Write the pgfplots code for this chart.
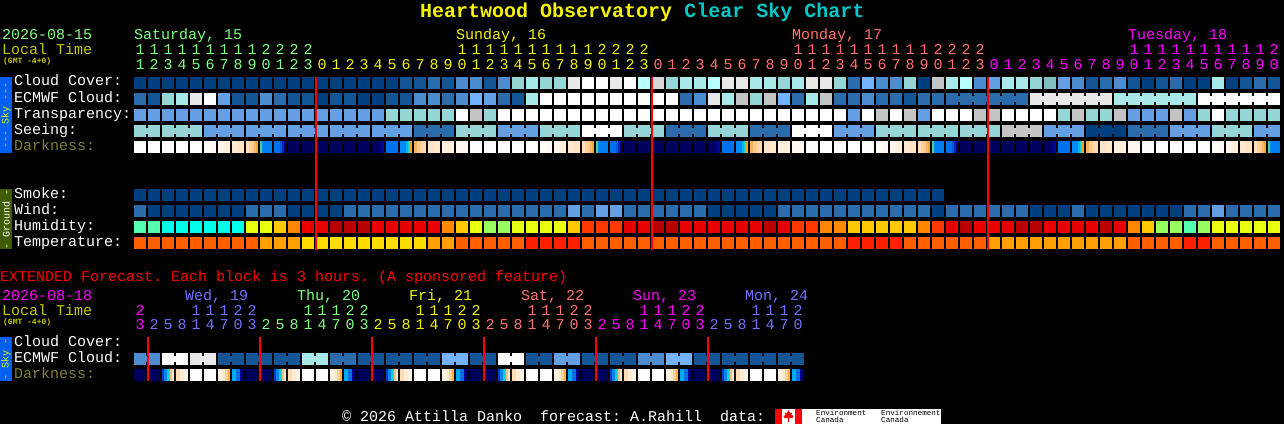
\documentclass[border=0pt]{standalone}
\usepackage{pgfplots}
\usepackage{pgfplotstable}
\usepackage{fontspec}
\pgfplotsset{compat=1.18}
\newfontfamily\mono{Liberation Mono}
\definecolor{cA}{HTML}{003F7F}\definecolor{cB}{HTML}{135595}\definecolor{cC}{HTML}{2C6CAC}
\definecolor{cD}{HTML}{4E8CD0}\definecolor{cE}{HTML}{649FE4}\definecolor{cF}{HTML}{72B2FF}
\definecolor{cG}{HTML}{95D5D5}\definecolor{cH}{HTML}{A8E8E8}\definecolor{cL}{HTML}{B8FFFF}
\definecolor{cK}{HTML}{C4C4C4}\definecolor{cQ}{HTML}{D8D8D8}\definecolor{cI}{HTML}{E8E8E8}
\definecolor{cJ}{HTML}{FFFFFF}\definecolor{cP}{HTML}{80C0C0}
\definecolor{cT}{HTML}{55FFB0}\definecolor{cU}{HTML}{00FFE8}\definecolor{cV}{HTML}{E8FF10}
\definecolor{cW}{HTML}{FFC800}\definecolor{cX}{HTML}{FF8800}\definecolor{cY}{HTML}{FF3800}
\definecolor{cZ}{HTML}{E80000}\definecolor{ca}{HTML}{B80000}\definecolor{cb}{HTML}{98FF60}
\definecolor{cc}{HTML}{FF5F00}\definecolor{cd}{HTML}{FF2000}\definecolor{ce}{HTML}{FFA000}
\definecolor{cf}{HTML}{FFDC00}
\definecolor{tgreen}{HTML}{80FF80}\definecolor{tyel}{HTML}{F4F400}\definecolor{tsal}{HTML}{FF7070}
\definecolor{tmag}{HTML}{FF00FF}\definecolor{tblu}{HTML}{7070FF}\definecolor{tolv}{HTML}{C8C800}
\definecolor{tdark}{HTML}{808030}\definecolor{tcyan}{HTML}{00C8C8}
\pgfplotsset{
  colormap={dk}{rgb255(0cm)=(0,0,85) rgb255(10cm)=(0,0,144) rgb255(20cm)=(0,64,200)
    rgb255(30cm)=(0,120,240) rgb255(35cm)=(0,144,255) rgb255(40cm)=(0,208,224)
    rgb255(45cm)=(80,208,144) rgb255(50cm)=(245,160,32) rgb255(60cm)=(251,200,136)
    rgb255(70cm)=(253,228,196) rgb255(85cm)=(255,244,230) rgb255(100cm)=(255,255,255)},
  blocks/.style={only marks, scatter, scatter src=explicit symbolic, mark size=6.4pt,
    scatter/classes={
     A={mark=square*,draw=none,fill=cA},B={mark=square*,draw=none,fill=cB},C={mark=square*,draw=none,fill=cC},
     D={mark=square*,draw=none,fill=cD},E={mark=square*,draw=none,fill=cE},F={mark=square*,draw=none,fill=cF},
     G={mark=square*,draw=none,fill=cG},H={mark=square*,draw=none,fill=cH},L={mark=square*,draw=none,fill=cL},
     K={mark=square*,draw=none,fill=cK},Q={mark=square*,draw=none,fill=cQ},I={mark=square*,draw=none,fill=cI},
     J={mark=square*,draw=none,fill=cJ},P={mark=square*,draw=none,fill=cP},N={mark=square*,draw=none,fill=black},
     T={mark=square*,draw=none,fill=cT},U={mark=square*,draw=none,fill=cU},V={mark=square*,draw=none,fill=cV},
     W={mark=square*,draw=none,fill=cW},X={mark=square*,draw=none,fill=cX},Y={mark=square*,draw=none,fill=cY},
     Z={mark=square*,draw=none,fill=cZ},a={mark=square*,draw=none,fill=ca},b={mark=square*,draw=none,fill=cb},
     c={mark=square*,draw=none,fill=cc},d={mark=square*,draw=none,fill=cd},e={mark=square*,draw=none,fill=ce},
     f={mark=square*,draw=none,fill=cf}}},
  necks/.style={only marks, scatter, scatter src=explicit symbolic, mark size=3pt, line width=2pt,
    scatter/classes={
     A={mark=|,draw=cA},B={mark=|,draw=cB},C={mark=|,draw=cC},D={mark=|,draw=cD},E={mark=|,draw=cE},
     F={mark=|,draw=cF},G={mark=|,draw=cG},H={mark=|,draw=cH},I={mark=|,draw=cI},J={mark=|,draw=cJ},
     K={mark=|,draw=cK},N={mark=|,draw=black,mark size=1pt,line width=0.1pt}}},
  dark/.style={mesh, line width=12pt, colormap name=dk, point meta=explicit, restrict x to domain=0:1280.5},
  gaps/.style={only marks, mark=|, mark size=7pt, line width=1.8pt, black}
}
% column c: hour block from 11h Sat. classes are the chart's colour levels
\pgfplotstableread{
c cl ec tr se sm wi hu te sn en
0 A C E G A C T c G N
1 A B E G A A T c N N
2 A G E G A A U c G N
3 A H E G A A U c G N
4 A I E G A A U c N N
5 A J E E A A U c E N
6 A E E E A A U c E N
7 A B E E A A U c N N
8 A B E E A C V c E N
9 A D E E A C V e E N
10 A C E E A C W e N N
11 A B E E A A X e E N
12 A B E E A A Z f E N
13 A A E E A A Z f N N
14 A B E E A A a f E N
15 A B E E A C a f E N
16 A A E E A C a f N N
17 A A E E A C Z f E N
18 A B G E A C Z f E N
19 B B G E A C Z f N N
20 B D G C A C Z f C N
21 C D G C A C Z e C N
22 B C G C A C X e N N
23 D D J G A C W c G N
24 D F K G A C V c G N
25 B E G G A C b c N N
26 D C J E A C b c E N
27 G B J E A C V c E N
28 H H J E A C V d N N
29 G J J G A C V d G N
30 G J J G A C V d G N
31 I J J G A E W d N N
32 J J J J A C Y c J N
33 J J J J A E Y c J N
34 I J J J A E Y c N N
35 J J J G A C Z c G N
36 L J J G A C Z c G N
37 Q J J G A C a c N N
38 G J J C A C a c C N
39 H C J C A C Z c C N
40 H D J C A C Z c N N
41 L I J G A A Z c G N
42 I H J G A A Z c G N
43 I K J G A A Z c N N
44 H G J C A A Z c C N
45 H K J C A A a c C N
46 G F J C A C Z c N N
47 H C J J A C Y c J N
48 I H J J A C Y c J N
49 I K J J A C X c N N
50 G C J E A C X c E N
51 C C E E A C W d E N
52 F D J E A C W d N N
53 D C K G A C W d G N
54 D C J G A C W d G N
55 G B K G A C W c N N
56 A C E G A C X c G N
57 K C J G A A Y c G N
58 H C J G N C Z c N C
59 L C J G N C a c G C
60 D C K G N C Z c G C
61 E C K G N C Z e N C
62 H C J K N C Z e K C
63 H C J K N C a e K N
64 G I J K N A a e N I
65 P I J E N A Z e E I
66 E I G E N A Z e E I
67 D I K E N C Z e N I
68 B I G A N A Z e A I
69 C I G A N A a e A N
70 D H K A N A Z e N H
71 B H E C N A X c C H
72 A H E C N A W c C H
73 B H E C N A b c N H
74 C H K E N A b c E H
75 A H E E N C T d E N
76 A J G E N C b d N J
77 H J J G N E V c G J
78 A J G G N C V c G J
79 B J G G N C V c N J
80 C J G E N C V c E J
81 B J G E N C V c N N
}\data
\pgfplotstableread{
c ec nk
0 D D
1 D N
2 J J
3 J N
4 I I
5 I N
6 B B
7 B N
8 B B
9 B N
10 B B
11 B N
12 H H
13 H N
14 C C
15 C N
16 B B
17 B N
18 B B
19 B N
20 B B
21 B N
22 F F
23 F N
24 B B
25 B N
26 J J
27 J N
28 B B
29 B N
30 E E
31 E N
32 B B
33 B N
34 B B
35 B N
36 D D
37 D N
38 F F
39 F N
40 B B
41 B N
42 B B
43 B N
44 B B
45 B N
46 B B
47 B N
}\extd
% darkness along one day of the hourly row: t = pixels from first block, m = level
\pgfplotstableread{
t m
0 100
68 100
70 98
76 94
82 90
84 90
90 84
96 78
98 78
104 72
110 68
112 70
115 66
118 62
120 58
122 54
124 50
126 45
128 45
128 32
138 30
140 30
146 28
148 20
150 12
152 7
154 2
238 1
244 2
247 8
250 14
252 28
264 30
266 33
272 36
274 40
275 42
276 48
278 55
280 52
283 58
287 64
292 68
294 68
300 72
306 76
308 78
320 84
322 88
334 94
336 100
}\darkh
% darkness along one day of the 3-hourly row
\pgfplotstableread{
t m
0 1
26 1
28 20
30 20
30 33
33 33
33 40
36 40
36 58
38 58
38 70
40 70
42 62
46 72
50 82
54 92
56 100
82 100
84 88
88 78
91 68
94 58
96 50
98 37
102 37
102 28
106 28
106 10
108 10
108 3
110 3
112 1
}\darke
\newcommand\Hours[4]{\foreach \d [count=\i from #1] in {#4} {\node[anchor=base,inner sep=0pt,text=#3,font=\mono\fontsize{15}{15}\selectfont] at ({140+14*\i},#2) {\d};}}
\newcommand\T[5][15]{\node[anchor=base west,inner sep=0pt,text=#4,font=\mono\fontsize{#1}{#1}\selectfont] at (#2,#3) {\frenchspacing #5};}
\begin{document}
\begin{tikzpicture}
\fill[black] (0,0) rectangle (1284pt,424pt);
\begin{axis}[at={(0,0)},anchor=south west,width=1284pt,height=424pt,scale only axis,hide axis,
  xmin=0,xmax=1284,ymin=0,ymax=424,y dir=reverse,clip=false,clip marker paths=true,point meta min=0,point meta max=100]
\addplot[blocks] table[x expr=\thisrow{c}*14+140,y expr=83,meta=cl]{\data};
\addplot[blocks] table[x expr=\thisrow{c}*14+140,y expr=99,meta=ec]{\data};
\addplot[blocks] table[x expr=\thisrow{c}*14+140,y expr=115,meta=tr]{\data};
\addplot[blocks] table[x expr=\thisrow{c}*14+140,y expr=131,meta=se]{\data};
\addplot[blocks] table[x expr=\thisrow{c}*14+140,y expr=195,meta=sm]{\data};
\addplot[blocks] table[x expr=\thisrow{c}*14+140,y expr=211,meta=wi]{\data};
\addplot[blocks] table[x expr=\thisrow{c}*14+140,y expr=227,meta=hu]{\data};
\addplot[blocks] table[x expr=\thisrow{c}*14+140,y expr=243,meta=te]{\data};
\addplot[necks] table[x expr=\thisrow{c}*14+147,y expr=131,meta=sn]{\data};
\addplot[necks] table[x expr=\thisrow{c}*14+147,y expr=99,meta=en]{\data};
\addplot[dark] table[x expr=\thisrow{t}+134,y expr=147,meta=m]{\darkh};
\addplot[dark] table[x expr=\thisrow{t}+470,y expr=147,meta=m]{\darkh};
\addplot[dark] table[x expr=\thisrow{t}+806,y expr=147,meta=m]{\darkh};
\addplot[dark] table[x expr=\thisrow{t}+1142,y expr=147,meta=m]{\darkh};
\addplot[gaps] table[x expr=\thisrow{c}*14+147,y expr=147]{\data};
\addplot[blocks] table[x expr=\thisrow{c}*14+140,y expr=359,meta=ec]{\extd};
\addplot[necks] table[x expr=\thisrow{c}*14+147,y expr=359,meta=nk]{\extd};
\addplot[dark] table[x expr=\thisrow{t}+134,y expr=375,meta=m]{\darke};
\addplot[dark] table[x expr=\thisrow{t}+246,y expr=375,meta=m]{\darke};
\addplot[dark] table[x expr=\thisrow{t}+358,y expr=375,meta=m]{\darke};
\addplot[dark] table[x expr=\thisrow{t}+470,y expr=375,meta=m]{\darke};
\addplot[dark] table[x expr=\thisrow{t}+582,y expr=375,meta=m]{\darke};
\addplot[dark] table[x expr=\thisrow{t}+694,y expr=375,meta=m]{\darke};
\addplot[gaps] table[x expr=\thisrow{c}*14+147,y expr=375]{\extd};
\addplot[red,line width=2pt] coordinates {(316,77)(316,250)};
\addplot[red,line width=2pt] coordinates {(652,77)(652,250)};
\addplot[red,line width=2pt] coordinates {(988,77)(988,250)};
\addplot[red,line width=2pt] coordinates {(148,337)(148,381)};
\addplot[red,line width=2pt] coordinates {(260,337)(260,381)};
\addplot[red,line width=2pt] coordinates {(372,337)(372,381)};
\addplot[red,line width=2pt] coordinates {(484,337)(484,381)};
\addplot[red,line width=2pt] coordinates {(596,337)(596,381)};
\addplot[red,line width=2pt] coordinates {(708,337)(708,381)};
\end{axis}
\begin{scope}[x=1pt,y=-1pt,yshift=424pt]
% title
\node[anchor=base west,inner sep=0pt,font=\mono\bfseries\fontsize{20}{20}\selectfont] at (420,18) {\textcolor{tyel}{Heartwood Observatory} \textcolor{tcyan}{Clear Sky Chart}};
% top-left
\T{2}{40}{tgreen}{2026-08-15}
\T{2}{55}{tolv}{Local Time}
\node[anchor=base west,inner sep=0pt,text=tolv,font=\mono\bfseries\fontsize{8}{8}\selectfont] at (3,64) {(GMT -4+0)};
% days
\T{134}{40}{tgreen}{Saturday, 15}
\T{456}{40}{tyel}{Sunday, 16}
\T{792}{40}{tsal}{Monday, 17}
\T{1128}{40}{tmag}{Tuesday, 18}
% hours
\Hours{0}{55}{tgreen}{1,1,1,1,1,1,1,1,1,2,2,2,2}
\Hours{23}{55}{tyel}{1,1,1,1,1,1,1,1,1,1,2,2,2,2}
\Hours{47}{55}{tsal}{1,1,1,1,1,1,1,1,1,1,2,2,2,2}
\Hours{71}{55}{tmag}{1,1,1,1,1,1,1,1,1,1,2}
\Hours{0}{70}{tgreen}{1,2,3,4,5,6,7,8,9,0,1,2,3}
\Hours{13}{70}{tyel}{0,1,2,3,4,5,6,7,8,9,0,1,2,3,4,5,6,7,8,9,0,1,2,3}
\Hours{37}{70}{tsal}{0,1,2,3,4,5,6,7,8,9,0,1,2,3,4,5,6,7,8,9,0,1,2,3}
\Hours{61}{70}{tmag}{0,1,2,3,4,5,6,7,8,9,0,1,2,3,4,5,6,7,8,9,0}
% row labels
\T{14}{86}{white}{Cloud Cover:}
\T{14}{102}{white}{ECMWF Cloud:}
\T{14}{118}{white}{Transparency:}
\T{14}{134}{white}{Seeing:}
\T{14}{150}{tdark}{Darkness:}
\T{14}{198}{white}{Smoke:}
\T{14}{214}{white}{Wind:}
\T{14}{230}{white}{Humidity:}
\T{14}{246}{white}{Temperature:}
% side bars
\fill[fill={rgb,255:red,0;green,96;blue,240}] (0,77) rectangle (12,153);
\node[rotate=90,inner sep=0pt,text=tyel,font=\mono\fontsize{10}{10}\selectfont] at (6,115) {--- Sky ---};
\fill[fill={rgb,255:red,63;green,92;blue,0}] (0,189) rectangle (12,249);
\node[rotate=90,inner sep=0pt,text=white,font=\mono\fontsize{10}{10}\selectfont] at (6,219) {- Ground -};
\fill[fill={rgb,255:red,0;green,96;blue,240}] (0,337) rectangle (12,381);
\node[rotate=90,inner sep=0pt,text=tyel,font=\mono\fontsize{10}{10}\selectfont] at (6,359) {- Sky -};
% extended
\T{0}{281}{red}{EXTENDED Forecast. Each block is 3 hours. (A sponsored feature)}
\T{2}{300}{tmag}{2026-08-18}
\T{2}{315}{tolv}{Local Time}
\node[anchor=base west,inner sep=0pt,text=tolv,font=\mono\bfseries\fontsize{8}{8}\selectfont] at (3,324) {(GMT -4+0)};
\T{185}{300}{tblu}{Wed, 19}
\T{297}{300}{tgreen}{Thu, 20}
\T{409}{300}{tyel}{Fri, 21}
\T{521}{300}{tsal}{Sat, 22}
\T{633}{300}{tmag}{Sun, 23}
\T{745}{300}{tblu}{Mon, 24}
\Hours{0}{315}{tmag}{2}
\Hours{4}{315}{tblu}{1,1,1,2,2}
\Hours{12}{315}{tgreen}{1,1,1,2,2}
\Hours{20}{315}{tyel}{1,1,1,2,2}
\Hours{28}{315}{tsal}{1,1,1,2,2}
\Hours{36}{315}{tmag}{1,1,1,2,2}
\Hours{44}{315}{tblu}{1,1,1,2}
\Hours{0}{329}{tmag}{3}
\Hours{1}{329}{tblu}{2,5,8,1,4,7,0,3}
\Hours{9}{329}{tgreen}{2,5,8,1,4,7,0,3}
\Hours{17}{329}{tyel}{2,5,8,1,4,7,0,3}
\Hours{25}{329}{tsal}{2,5,8,1,4,7,0,3}
\Hours{33}{329}{tmag}{2,5,8,1,4,7,0,3}
\Hours{41}{329}{tblu}{2,5,8,1,4,7,0}
\T{14}{346}{white}{Cloud Cover:}
\T{14}{362}{white}{ECMWF Cloud:}
\T{14}{378}{tdark}{Darkness:}
% footer
\T{342}{421}{white}{© 2026 Attilla Danko\ \ forecast: A.Rahill\ \ data:}
\fill[white] (775,409) rectangle (941,424);
\fill[red] (775,409) rectangle (782,424);
\fill[red] (795,409) rectangle (802,424);
\fill[red] (788.5,410) -- (790,413) -- (792,412.5) -- (791.5,415) -- (793.5,416) -- (792.5,418) -- (789,418) -- (789,422) -- (788,422) -- (788,418) -- (784.5,418) -- (783.5,416) -- (785.5,415) -- (785,412.5) -- (787,413) -- cycle;
\T[7.6]{816}{415}{black}{Environment}
\T[7.6]{816}{422}{black}{Canada}
\T[7.6]{881}{415}{black}{Environnement}
\T[7.6]{881}{422}{black}{Canada}
\end{scope}
\end{tikzpicture}
\end{document}
